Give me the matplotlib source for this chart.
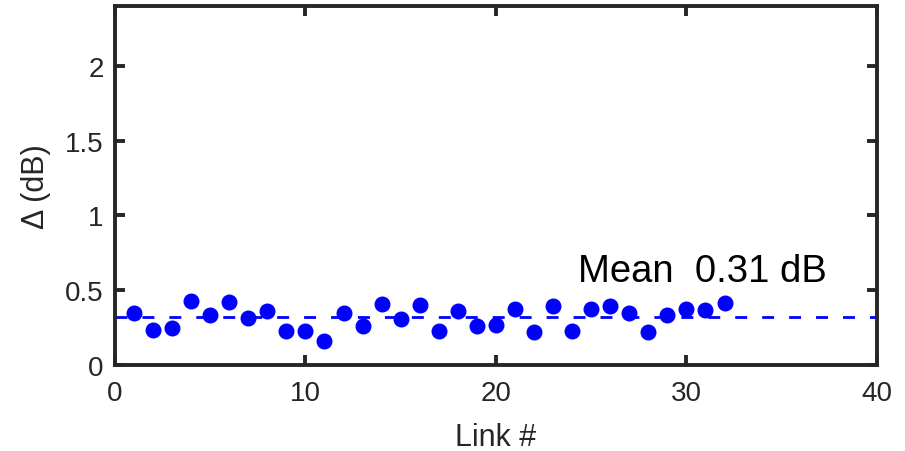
import matplotlib
matplotlib.use("Agg")
import matplotlib.pyplot as plt
import numpy as np

# per-link deviation
link = np.arange(1, 33)
delta_db = [0.347, 0.236, 0.247, 0.427, 0.338, 0.424, 0.313, 0.362, 0.229, 0.229,
            0.162, 0.349, 0.262, 0.409, 0.311, 0.400, 0.229, 0.364, 0.258, 0.271,
            0.378, 0.222, 0.393, 0.229, 0.373, 0.396, 0.347, 0.224, 0.336, 0.378,
            0.369, 0.413]
mean_label = "Mean  0.31 dB"
x_ticks = [0, 10, 20, 30, 40]
y_ticks = [0, 0.5, 1, 1.5, 2]
y_ticklabels = ["0", "0.5", "1", "1.5", "2"]

plt.rcParams.update({
    "font.family": ["Liberation Sans", "DejaVu Sans"],
})

axis_col = "#262626"
fig = plt.figure(figsize=(9.05, 4.52), dpi=100)
ax = fig.add_axes([0.127, 0.190, 0.842, 0.795])

mean_val = float(np.mean(delta_db))
ax.plot([0, 40], [mean_val, mean_val], color="#0000ff", lw=2.0, dashes=(4.3, 5.4))
ax.plot(link, delta_db, "o", color="#0000ff", ms=10.5, mec="#0000ff", ls="none")

ax.text(24.3, 0.56, mean_label, fontsize=27.5, color="black", va="baseline", ha="left")

ax.set_xlim(0, 40)
ax.set_ylim(0, 2.4)
ax.set_xticks(x_ticks)
ax.set_yticks(y_ticks)
ax.set_yticklabels(y_ticklabels)
ax.set_xlabel("Link #", fontsize=22, color=axis_col, labelpad=11)
ax.set_ylabel("\u0394 (dB)", fontsize=22, color=axis_col, labelpad=10)

for s in ax.spines.values():
    s.set_linewidth(2.8)
    s.set_color(axis_col)
ax.tick_params(direction="in", length=7, width=2.8, labelsize=20, colors=axis_col,
               top=True, right=True)
ax.tick_params(axis="y", pad=8)
ax.tick_params(axis="x", pad=11)

fig.savefig("out.png", dpi=100)
